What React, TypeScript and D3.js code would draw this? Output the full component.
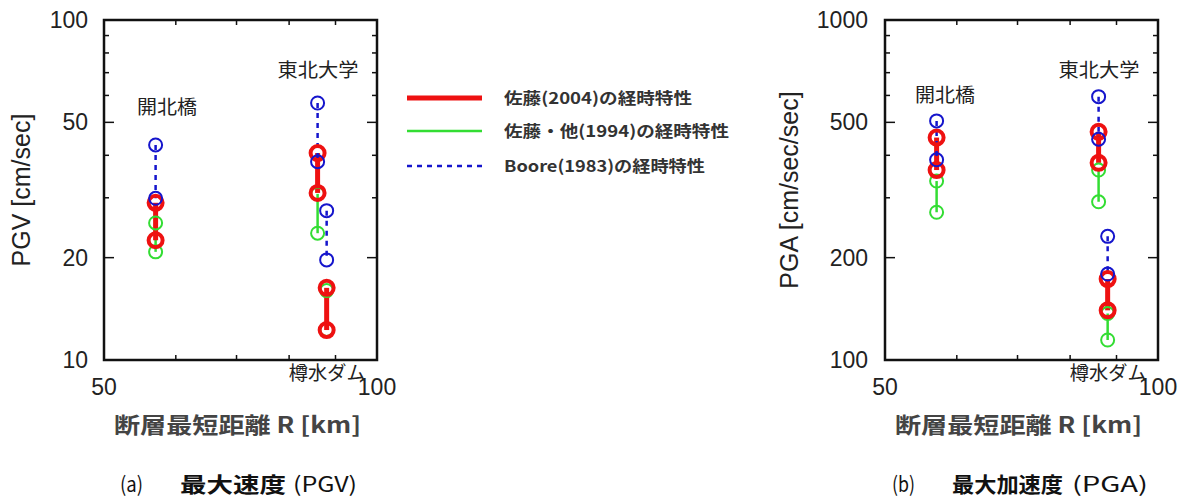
import React from "react";
import * as d3 from "d3";

const stations = ["開北橋", "東北大学", "樽水ダム"];
const distances = [57, 86, 88];

// [upper, lower] pairs per station
const sato2004PGV = [[29.0, 22.5], [40.6, 31.0], [16.3, 12.25]];
const sato1994PGV = [[25.3, 20.8], [30.8, 23.6], [16.0, 12.3]];
const boorePGV = [[42.9, 29.9], [57.0, 38.3], [27.5, 19.7]];

const sato2004PGA = [[451, 362], [469, 380], [173, 140]];
const sato1994PGA = [[336, 272], [362, 292], [137, 114.5]];
const boorePGA = [[505, 388], [595, 446], [231, 179]];

const xTicksMinor = [60, 70, 80, 90];
const xTickLabels = [50, 100];
const pgvMajor = [10, 20, 50, 100];
const pgvMinor = [30, 40, 60, 70, 80, 90];
const pgaMajor = [100, 200, 500, 1000];
const pgaMinor = [300, 400, 600, 700, 800, 900];

const legendLabels = ["佐藤(2004)の経時特性", "佐藤・他(1994)の経時特性", "Boore(1983)の経時特性"];

const RED = "#ee1111";
const GREEN = "#33dd33";
const BLUE = "#1515cc";

const TICK_FONT = "'Liberation Sans', Arial, sans-serif";
const JP_FONT = "'Noto Sans CJK JP', sans-serif";

type PanelProps = {
  left: number;
  ymin: number;
  ymax: number;
  major: number[];
  minor: number[];
  red: number[][];
  green: number[][];
  blue: number[][];
  yLabel: string;
  labelRight: number;
  yLabelX: number;
  kaiY: number;
  kaiX: number;
};

function Panel(p: PanelProps) {
  const top = 20, bottom = 360, width = 273;
  const x = d3.scaleLog().domain([50, 100]).range([p.left, p.left + width]);
  const y = d3.scaleLog().domain([p.ymin, p.ymax]).range([bottom, top]);
  const right = p.left + width;
  const line = d3.line<[number, number]>().x(d => d[0]).y(d => d[1]);

  const seg = (vals: number[][], i: number) =>
    line([[x(distances[i]), y(vals[i][0])], [x(distances[i]), y(vals[i][1])]]) || "";

  return (
    <g>
      {/* series lines */}
      {sato1994PGV.map((_, i) => (
        <path key={"g" + i} d={seg(p.green, i)} stroke={GREEN} strokeWidth={2.5} fill="none" />
      ))}
      {sato1994PGV.map((_, i) => (
        <path key={"r" + i} d={seg(p.red, i)} stroke={RED} strokeWidth={5} fill="none" />
      ))}
      {sato1994PGV.map((_, i) => (
        <path key={"b" + i} d={seg(p.blue, i)} stroke={BLUE} strokeWidth={2.5} strokeDasharray="5,5" fill="none" />
      ))}
      {/* markers */}
      {p.green.map((pair, i) => pair.map((v, j) => (
        <circle key={"gc" + i + j} cx={x(distances[i])} cy={y(v)} r={6.5} fill="none" stroke={GREEN} strokeWidth={2} />
      )))}
      {p.red.map((pair, i) => pair.map((v, j) => (
        <circle key={"rc" + i + j} cx={x(distances[i])} cy={y(v)} r={7} fill="none" stroke={RED} strokeWidth={4} />
      )))}
      {p.blue.map((pair, i) => pair.map((v, j) => (
        <circle key={"bc" + i + j} cx={x(distances[i])} cy={y(v)} r={6.5} fill="none" stroke={BLUE} strokeWidth={2} />
      )))}

      {/* frame */}
      <rect x={p.left} y={top} width={width} height={bottom - top} fill="none" stroke="#111" strokeWidth={2.5} />
      {/* x ticks */}
      {xTicksMinor.map(t => (
        <g key={"xt" + t}>
          <line x1={x(t)} x2={x(t)} y1={bottom} y2={bottom - 5} stroke="#111" strokeWidth={1.5} />
          <line x1={x(t)} x2={x(t)} y1={top} y2={top + 5} stroke="#111" strokeWidth={1.5} />
        </g>
      ))}
      {xTickLabels.map(t => (
        <text key={"xl" + t} x={x(t)} y={395} textAnchor="middle" fontFamily={TICK_FONT} fontSize={23} fill="#222">{t}</text>
      ))}
      {/* y ticks */}
      {p.minor.map(t => (
        <g key={"ym" + t}>
          <line x1={p.left} x2={p.left + 5} y1={y(t)} y2={y(t)} stroke="#111" strokeWidth={1.5} />
          <line x1={right} x2={right - 5} y1={y(t)} y2={y(t)} stroke="#111" strokeWidth={1.5} />
        </g>
      ))}
      {p.major.filter(t => t !== p.ymin && t !== p.ymax).map(t => (
        <g key={"yM" + t}>
          <line x1={p.left} x2={p.left + 10} y1={y(t)} y2={y(t)} stroke="#111" strokeWidth={1.5} />
          <line x1={right} x2={right - 10} y1={y(t)} y2={y(t)} stroke="#111" strokeWidth={1.5} />
        </g>
      ))}
      {p.major.map(t => (
        <text key={"yl" + t} x={p.labelRight} y={y(t) + 8} textAnchor="end" fontFamily={TICK_FONT} fontSize={23} fill="#222">{t}</text>
      ))}
      {/* y label */}
      <text transform={`translate(${p.yLabelX},190) rotate(-90)`} textAnchor="middle" fontFamily={TICK_FONT} fontSize={25} fill="#222">{p.yLabel}</text>
      {/* x label */}
      <text x={p.left + width / 2 - 3} y={433} textAnchor="middle" fontFamily={JP_FONT} fontWeight="bold" fontSize={22} fill="#444" textLength={247} lengthAdjust="spacingAndGlyphs">断層最短距離 R [km]</text>
      {/* station labels */}
      <text x={p.kaiX} y={p.kaiY} fontFamily={JP_FONT} fontSize={19} fill="#222" textLength={60} lengthAdjust="spacingAndGlyphs">{stations[0]}</text>
      <text x={x(distances[1]) - 40} y={77} fontFamily={JP_FONT} fontSize={19} fill="#222" textLength={81} lengthAdjust="spacingAndGlyphs">{stations[1]}</text>
      <text x={x(distances[2]) - 38} y={380} fontFamily={JP_FONT} fontSize={19} fill="#222" textLength={77} lengthAdjust="spacingAndGlyphs">{stations[2]}</text>
    </g>
  );
}

export default function App() {
  const legendY = [98, 131, 166];
  const legendColors = [RED, GREEN, BLUE];
  const legendWidths = [5, 2.5, 2.5];
  const legendTextLen = [188, 225, 201];
  return (
    <svg width={1188} height={499} style={{ position: "absolute", left: 0, top: 0, background: "#fff" }}>
      <rect x={0} y={0} width={1188} height={499} fill="#fff" />
      <Panel left={104} ymin={10} ymax={100} major={pgvMajor} minor={pgvMinor}
        red={sato2004PGV} green={sato1994PGV} blue={boorePGV}
        yLabel="PGV [cm/sec]" labelRight={88} yLabelX={30} kaiX={137} kaiY={114} />
      <Panel left={885} ymin={100} ymax={1000} major={pgaMajor} minor={pgaMinor}
        red={sato2004PGA} green={sato1994PGA} blue={boorePGA}
        yLabel="PGA [cm/sec/sec]" labelRight={868} yLabelX={798} kaiX={915} kaiY={102} />
      {/* legend */}
      {legendLabels.map((l, i) => (
        <g key={l}>
          <line x1={407} x2={482} y1={legendY[i]} y2={legendY[i]} stroke={legendColors[i]} strokeWidth={legendWidths[i]} strokeDasharray={i === 2 ? "5,5" : undefined} />
          <text x={504} y={legendY[i] + 6} fontFamily={JP_FONT} fontWeight="bold" fontSize={16} fill="#333" textLength={legendTextLen[i]} lengthAdjust="spacingAndGlyphs">{l}</text>
        </g>
      ))}
      {/* captions */}
      <text y={492} fontFamily={JP_FONT} fontSize={21} fill="#111">
        <tspan x={120} textLength={23} lengthAdjust="spacingAndGlyphs">(a)</tspan>
        <tspan x={180} textLength={106} lengthAdjust="spacingAndGlyphs" fontWeight="bold">最大速度</tspan>
        <tspan x={293} textLength={64} lengthAdjust="spacingAndGlyphs">(PGV)</tspan>
      </text>
      <text y={492} fontFamily={JP_FONT} fontSize={21} fill="#111">
        <tspan x={892} textLength={23} lengthAdjust="spacingAndGlyphs">(b)</tspan>
        <tspan x={952} textLength={111} lengthAdjust="spacingAndGlyphs" fontWeight="bold">最大加速度</tspan>
        <tspan x={1072} textLength={76} lengthAdjust="spacingAndGlyphs">(PGA)</tspan>
      </text>
    </svg>
  );
}
